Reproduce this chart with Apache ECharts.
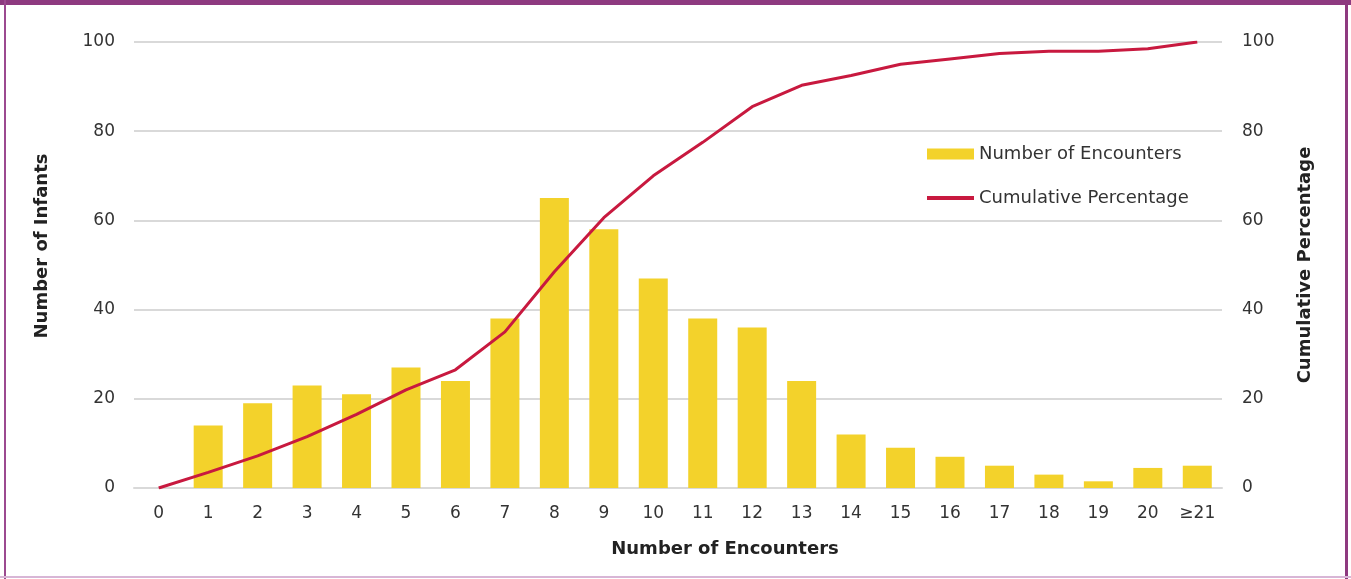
<!DOCTYPE html>
<html>
<head>
<meta charset="utf-8">
<script src="https://cdn.jsdelivr.net/npm/echarts@6/dist/echarts.min.js"></script>
<style>
  html, body { margin: 0; padding: 0; background: #fff; }
  #wrap { position: relative; width: 1351px; height: 579px; overflow: hidden; }
  #chart { position: absolute; left: 0; top: 0; width: 1351px; height: 579px; }
  .edge { position: absolute; }
</style>
</head>
<body>
<div id="wrap">
  <div id="chart"></div>
  <div class="edge" style="left:0;top:0;width:1351px;height:5px;background:#8e3a80"></div>
  <div class="edge" style="left:4px;top:0;width:2px;height:579px;background:#9c4a90"></div>
  <div class="edge" style="left:1345px;top:0;width:3px;height:579px;background:#8e3a80"></div>
  <div class="edge" style="left:0;top:576px;width:1351px;height:2px;background:#d8b6d6"></div>
</div>
<script>
  // categories on the x axis
  var encounters = ['0','1','2','3','4','5','6','7','8','9','10','11','12','13','14','15','16','17','18','19','20','≥21']
  // number of infants (bars), no bar at 0
  var infants = [null,14,19,23,21,27,24,38,65,58,47,38,36,24,12,9,7,5,3,1.5,4.5,5]
  // cumulative percentage (line)
  var cumulative = [0,3.5,7.2,11.5,16.5,22,26.5,35,48.5,60.6,70,77.5,85.5,90.3,92.5,95,96.2,97.4,97.9,97.9,98.5,100]

  var font = '"DejaVu Sans", sans-serif'
  var chart = echarts.init(document.getElementById('chart'))
  var option = {
    animation: false,
    grid: { left: 134, right: 129, top: 42, bottom: 91, containLabel: false },
    legend: {
      orient: 'vertical',
      left: 925,
      top: 145,
      padding: 0,
      itemWidth: 47,
      itemHeight: 11,
      itemGap: 26,
      textStyle: { fontFamily: font, fontSize: 18, color: '#333' },
      data: [
        { name: 'Number of Encounters', icon: 'rect' },
        { name: 'Cumulative Percentage', itemStyle: { opacity: 0 }, lineStyle: { width: 4 } }
      ]
    },
    xAxis: {
      type: 'category',
      data: encounters,
      axisLine: { lineStyle: { color: '#d9d9d9', width: 2 } },
      axisTick: { show: false },
      axisLabel: { fontFamily: font, fontSize: 17, color: '#333', margin: 17 }
    },
    yAxis: [
      {
        type: 'value', min: 0, max: 100, interval: 20,
        axisLine: { show: false }, axisTick: { show: false },
        axisLabel: { fontFamily: font, fontSize: 17, color: '#333', margin: 19 },
        splitLine: { lineStyle: { color: '#d9d9d9', width: 2 } }
      },
      {
        type: 'value', min: 0, max: 100, interval: 20,
        name: 'Cumulative Percentage', nameLocation: 'middle', nameGap: 74,
        nameTextStyle: { fontFamily: font, fontSize: 18, fontWeight: 'bold', color: '#222' },
        axisLine: { show: false }, axisTick: { show: false },
        axisLabel: { fontFamily: font, fontSize: 17, color: '#333', margin: 20 },
        splitLine: { show: false }
      }
    ],
    graphic: [
      {
        type: 'text', x: 725, y: 549,
        style: { text: 'Number of Encounters', align: 'center', verticalAlign: 'middle',
          fontFamily: font, fontSize: 18, fontWeight: 'bold', fill: '#222' }
      },
      {
        type: 'text', x: 42, y: 246, rotation: Math.PI / 2,
        style: { text: 'Number of Infants', align: 'center', verticalAlign: 'middle',
          fontFamily: font, fontSize: 18, fontWeight: 'bold', fill: '#222' }
      }
    ],
    series: [
      {
        name: 'Number of Encounters', type: 'bar', data: infants, yAxisIndex: 0,
        barWidth: 29, itemStyle: { color: '#f3d22b' }
      },
      {
        name: 'Cumulative Percentage', type: 'line', data: cumulative, yAxisIndex: 1,
        symbol: 'none', smooth: false,
        lineStyle: { color: '#c8193f', width: 3 }, itemStyle: { color: '#c8193f' }
      }
    ]
  }
  chart.setOption(option)
</script>
</body>
</html>
